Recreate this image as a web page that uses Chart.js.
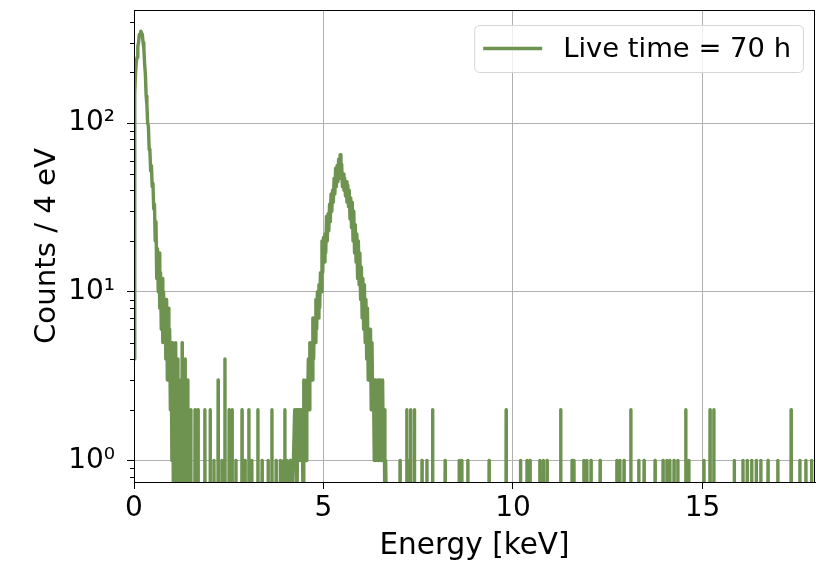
<!DOCTYPE html>
<html>
<head>
<meta charset="utf-8">
<script src="https://cdn.jsdelivr.net/npm/chart.js@4.4.0/dist/chart.umd.min.js"></script>
<style>
  html, body { margin: 0; padding: 0; background: #fff; }
</style>
</head>
<body>
<canvas id="spectrum" width="818" height="564"></canvas>
<script>
// histogram bin width, keV (4 eV)
const binWidth = 0.004;

// low-energy noise peak, read every 0.02 keV starting at 0
const peak1Start = 0.0;
const peak1Step = 0.02;
const peak1Counts = [4, 150, 195, 230, 245, 285, 300, 335, 338, 350,
  342, 335, 300, 275, 225, 195, 145, 130, 100, 96,
  70, 68, 52, 56, 42, 44, 31, 33, 20, 26,
  12, 18, 10, 17, 8, 13, 6, 12, 5, 10,
  5, 9, 4, 9, 3, 8, 3, 6, 2, 5,
  1, 5, 0, 4, 0, 5, 0, 4, 2, 0,
  3, 0];

// line around 5.4 keV, read every 0.02 keV starting at 4.24 keV
const peak2Start = 4.24;
const peak2Step = 0.02;
const peak2Counts = [2, 1, 2, 0, 2, 1, 2, 1, 2, 1,
  2, 0, 3, 1, 2, 1, 3, 2, 4, 2,
  5, 3, 5, 3, 7, 4, 7, 5, 9, 6,
  10, 7, 11, 8, 13, 10, 20, 13, 21, 15,
  22, 17, 28, 20, 29, 23, 33, 26, 38, 30,
  40, 34, 47, 38, 54, 42, 56, 45, 61, 48,
  65, 47, 57, 42, 50, 40, 47, 37, 45, 34,
  43, 32, 40, 27, 36, 24, 34, 20, 30, 17,
  25, 15, 22, 12, 20, 11, 17, 9, 14, 7,
  12, 6, 11, 5, 9, 4, 8, 3, 6, 3,
  6, 2, 5, 2, 3, 1, 3, 1, 2, 1,
  3, 1, 2, 3, 1, 2, 3, 1, 2, 0,
  1, 0, 0, 0];

// isolated non-empty bins elsewhere (keV, counts)
const eventEnergy = [1.27, 1.35, 1.42, 1.50, 1.61, 1.69, 1.87, 2.01, 2.11, 2.22,
  2.32, 2.40, 2.51, 2.59, 2.69, 2.85, 2.93, 3.03, 3.11, 3.27,
  3.38, 3.54, 3.64, 3.75, 3.86, 3.95, 3.98, 4.03, 4.12, 4.17,
  7.02, 7.20, 7.24, 7.30, 7.40, 7.60, 7.73, 7.88, 8.21, 8.58,
  8.65, 8.81, 9.37, 9.82, 10.20, 10.37, 10.45, 10.71, 10.80, 10.90,
  11.26, 11.56, 11.61, 11.87, 11.95, 12.06, 12.30, 12.74, 12.82, 12.93,
  13.11, 13.32, 13.46, 13.75, 13.96, 14.06, 14.14, 14.25, 14.35, 14.56,
  14.64, 15.04, 15.20, 15.30, 15.84, 16.07, 16.18, 16.30, 16.42, 16.54,
  16.73, 16.99, 17.34, 17.57, 17.73, 17.88];
const eventCounts = [5, 4, 3, 2, 2, 2, 2, 2, 1, 3,
  1, 4, 2, 2, 1, 2, 1, 2, 1, 2,
  1, 1, 2, 1, 1, 1, 2, 1, 1, 1,
  1, 2, 1, 2, 2, 1, 1, 2, 1, 1,
  1, 1, 1, 2, 1, 1, 1, 1, 1, 1,
  2, 1, 1, 1, 1, 1, 1, 1, 1, 1,
  2, 1, 1, 1, 1, 1, 1, 1, 1, 2,
  1, 1, 2, 2, 1, 1, 1, 1, 1, 1,
  1, 1, 2, 1, 1, 1];

const xTicks = [0, 5, 10, 15];
const yTicks = [1, 10, 100];
const seriesLabel = 'Live time = 70 h';

// empty bins sit below the log axis floor and get clipped away
const floorValue = 0.5;
const toY = c => (c > 0 ? c : floorValue);

const points = [];
peak1Counts.forEach((c, i) => points.push({ x: peak1Start + i * peak1Step, y: toY(c) }));
peak2Counts.forEach((c, i) => points.push({ x: peak2Start + i * peak2Step, y: toY(c) }));
eventEnergy.forEach((e, i) => {
  points.push({ x: e - binWidth, y: floorValue }, { x: e, y: eventCounts[i] }, { x: e + binWidth, y: floorValue });
});
points.sort((a, b) => a.x - b.x);

const FONT = '"DejaVu Sans", sans-serif';
const sup = { 0: '\u2070', 1: '\u00b9', 2: '\u00b2' };

const decorations = {
  id: 'decorations',
  afterDraw(chart) {
    const { ctx, chartArea: a, scales: { y } } = chart;
    ctx.save();
    ctx.strokeStyle = '#000';
    ctx.lineWidth = 1;
    // minor log ticks
    for (let dec = 0.1; dec <= 100; dec *= 10) {
      for (let m = 2; m <= 9; m++) {
        const v = m * dec;
        if (v < y.min || v > y.max) continue;
        const py = Math.round(y.getPixelForValue(v)) + 0.5;
        ctx.beginPath();
        ctx.moveTo(a.left, py);
        ctx.lineTo(a.left - 4, py);
        ctx.stroke();
      }
    }
    // frame
    ctx.strokeRect(a.left + 0.5, a.top + 0.5, a.right - a.left - 1, a.bottom - a.top);

    // legend
    const ds = chart.data.datasets[0];
    ctx.font = '27.4px ' + FONT;
    const tw = ctx.measureText(ds.label).width;
    const h = 47, handle = 59, gap = 21, padL = 9, padR = 12;
    const w = padL + handle + gap + tw + padR;
    const bx = a.right - 12 - w, by = a.top + 15;
    ctx.beginPath();
    ctx.roundRect(bx + 0.5, by + 0.5, w, h, 5);
    ctx.fillStyle = 'rgba(255,255,255,0.8)';
    ctx.fill();
    ctx.strokeStyle = '#d6d6d6';
    ctx.stroke();
    ctx.strokeStyle = ds.borderColor;
    ctx.lineWidth = ds.borderWidth;
    ctx.beginPath();
    ctx.moveTo(bx + padL, by + h / 2);
    ctx.lineTo(bx + padL + handle, by + h / 2);
    ctx.stroke();
    ctx.fillStyle = '#000';
    ctx.textBaseline = 'middle';
    ctx.fillText(ds.label, bx + padL + handle + gap, by + h / 2 + 1);
    ctx.restore();
  }
};

new Chart(document.getElementById('spectrum'), {
  type: 'line',
  data: {
    datasets: [{
      label: seriesLabel,
      data: points,
      borderColor: '#6e924f',
      borderWidth: 3.4,
      pointRadius: 0,
      tension: 0,
      borderJoinStyle: 'round',
      clip: 0
    }]
  },
  options: {
    responsive: false,
    animation: false,
    layout: { padding: { top: 10, right: 3, left: 0, bottom: 0 } },
    plugins: { legend: { display: false }, tooltip: { enabled: false } },
    scales: {
      x: {
        type: 'linear',
        min: 0,
        max: 17.97,
        bounds: 'data',
        afterBuildTicks: s => { s.ticks = xTicks.map(v => ({ value: v })); },
        afterFit: s => { s.height = 82; s.paddingLeft = 0; s.paddingRight = 0; },
        grid: { color: '#b0b0b0', lineWidth: 1, tickColor: '#000', tickLength: 7 },
        border: { display: true, color: '#000', width: 1 },
        ticks: { color: '#000', font: { family: FONT, size: 28 }, padding: 3, maxRotation: 0 },
        title: { display: true, text: 'Energy [keV]', color: '#000', font: { family: FONT, size: 29.5 }, padding: { top: 0, bottom: 0 } }
      },
      y: {
        type: 'logarithmic',
        min: 0.746,
        max: 468,
        bounds: 'data',
        afterBuildTicks: s => { s.ticks = yTicks.map(v => ({ value: v })); },
        afterFit: s => { s.width = 134; s.paddingTop = 0; s.paddingBottom = 0; },
        grid: { color: '#b0b0b0', lineWidth: 1, tickColor: '#000', tickLength: 7 },
        border: { display: true, color: '#000', width: 1 },
        ticks: {
          color: '#000',
          font: { family: FONT, size: 28 },
          padding: 12,
          callback: v => '10' + sup[Math.round(Math.log10(v))]
        },
        title: { display: true, text: 'Counts / 4 eV', color: '#000', font: { family: FONT, size: 29.2 }, padding: { top: 30, bottom: 0 } }
      }
    }
  },
  plugins: [decorations]
});
</script>
</body>
</html>
